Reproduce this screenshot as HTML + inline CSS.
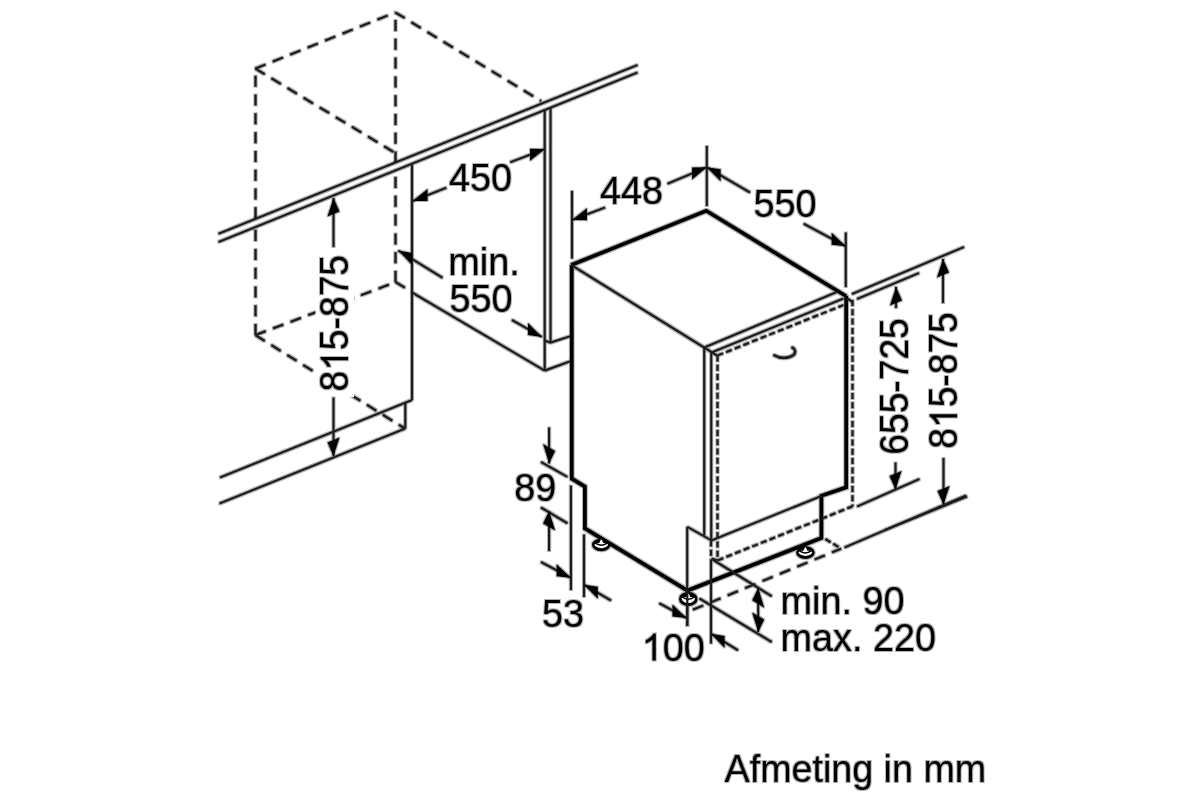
<!DOCTYPE html>
<html><head><meta charset="utf-8"><style>
html,body{margin:0;padding:0;background:#fff;width:1200px;height:800px;overflow:hidden}
svg{display:block}
text{font-family:"Liberation Sans",sans-serif;fill:#000;stroke:none}
svg{filter:grayscale(1)}
</style></head><body>
<svg width="1200" height="800" viewBox="0 0 1200 800" stroke="#1c1c1c" stroke-linecap="butt">
<defs><filter id="soft" x="0" y="0" width="1200" height="800" filterUnits="userSpaceOnUse"><feMorphology in="SourceAlpha" operator="dilate" radius="0.8" result="d"/><feComponentTransfer in="d" result="dl"><feFuncA type="linear" slope="0.3"/></feComponentTransfer><feMerge><feMergeNode in="dl"/><feMergeNode in="SourceGraphic"/></feMerge></filter></defs>
<g filter="url(#soft)">
<line x1="255.3" y1="68.6" x2="395.3" y2="12.4" stroke-width="2.35" stroke-dasharray="11 7.8" stroke-dashoffset="0"/>
<line x1="395.3" y1="12.4" x2="541" y2="101" stroke-width="2.35" stroke-dasharray="11 7.8" stroke-dashoffset="0"/>
<line x1="255.3" y1="68.6" x2="395.3" y2="153" stroke-width="2.35" stroke-dasharray="11 7.8" stroke-dashoffset="0"/>
<line x1="255.5" y1="75.75" x2="255.5" y2="219" stroke-width="2.35" stroke-dasharray="11 7.8" stroke-dashoffset="0"/>
<line x1="255.5" y1="335.1" x2="255.5" y2="227" stroke-width="2.35" stroke-dasharray="11 7.8" stroke-dashoffset="0"/>
<line x1="395.5" y1="20" x2="395.5" y2="162" stroke-width="2.35" stroke-dasharray="11 7.8" stroke-dashoffset="0"/>
<line x1="395.5" y1="282" x2="395.5" y2="170" stroke-width="2.35" stroke-dasharray="11 7.8" stroke-dashoffset="0"/>
<line x1="255.4" y1="335.1" x2="396" y2="282" stroke-width="2.35" stroke-dasharray="11 7.8" stroke-dashoffset="0"/>
<line x1="255.4" y1="335.1" x2="404" y2="428" stroke-width="2.35" stroke-dasharray="11 7.8" stroke-dashoffset="0"/>
<line x1="395.5" y1="282" x2="412" y2="292" stroke-width="2.35" stroke-dasharray="11 7.8" stroke-dashoffset="0"/>
</g><rect x="315.5" y="248" width="38.5" height="149" fill="#fff" stroke="none"/><g filter="url(#soft)">
<line x1="218.5" y1="233.75" x2="637.5" y2="65" stroke-width="2.2"/>
<line x1="218.5" y1="241.9" x2="637.5" y2="72.5" stroke-width="2.2"/>
<line x1="412" y1="163.7" x2="412" y2="400" stroke-width="2.2"/>
<line x1="220" y1="477.5" x2="412" y2="400" stroke-width="2.2"/>
<line x1="405.3" y1="402.9" x2="405.3" y2="428.4" stroke-width="2.2"/>
<line x1="219.5" y1="503.5" x2="405.3" y2="428.4" stroke-width="2.2"/>
<line x1="412.5" y1="292.8" x2="544.7" y2="370.6" stroke-width="2.2"/>
<line x1="544.7" y1="110" x2="544.7" y2="370.6" stroke-width="2.2"/>
<line x1="550.5" y1="107.7" x2="550.5" y2="342.5" stroke-width="2.2"/>
<polyline points="544.7,340.6 550.5,342.5 571,336" stroke-width="2.2" fill="none" stroke-linejoin="miter"/>
<line x1="544.7" y1="370.6" x2="571" y2="361" stroke-width="2.2"/>
<line x1="446.3" y1="187.7" x2="412.7" y2="201" stroke-width="2.2"/>
<polygon points="412.70,201.00 427.58,201.11 427.58,189.11" fill="#000" stroke="none"/>
<line x1="510.3" y1="162.3" x2="545" y2="149" stroke-width="2.2"/>
<polygon points="545.00,149.00 530.06,160.73 530.06,148.73" fill="#000" stroke="none"/>
<text transform="translate(448.9,190.8) scale(1,1.04)" x="0" y="0" font-size="37.8">450</text>
<line x1="442.5" y1="277.8" x2="398.4" y2="250.6" stroke-width="2.2"/>
<polygon points="398.40,250.60 412.02,265.00 412.02,253.00" fill="#000" stroke="none"/>
<line x1="511.9" y1="320" x2="541.9" y2="336.9" stroke-width="2.2"/>
<polygon points="541.90,336.90 527.96,335.05 527.96,323.05" fill="#000" stroke="none"/>
<text transform="translate(448.3,275) scale(1,1.04)" x="0" y="0" font-size="37.8">min.</text>
<text transform="translate(449.5,312) scale(1,1.04)" x="0" y="0" font-size="37.8">550</text>
<line x1="333.5" y1="247" x2="333.5" y2="198" stroke-width="2.2"/>
<polygon points="333.50,198.00 339.50,211.58 327.50,216.42" fill="#000" stroke="none"/>
<line x1="333.5" y1="397.5" x2="333.5" y2="456" stroke-width="2.2"/>
<polygon points="333.50,456.00 339.50,437.54 327.50,442.46" fill="#000" stroke="none"/>
<g transform="translate(348,391.5) rotate(-90) scale(1,1.07)"><text x="0.00" y="0" font-size="37.2">8</text><path transform="translate(20.69,0) scale(0.01816,-0.01816)" d="M763,0 L583,0 L583,1098 Q518,1038 412,979 Q306,920 222,890 L222,1057 Q373,1124 486,1221 Q599,1318 646,1409 L763,1409 Z" fill="#000" stroke="none"/><text x="41.38" y="0" font-size="37.2">5-875</text></g>
<line x1="572" y1="191" x2="572" y2="258.5" stroke-width="2.2"/>
<line x1="605" y1="207.5" x2="572" y2="220" stroke-width="2.2"/>
<polygon points="572.00,220.00 586.96,220.33 586.96,208.33" fill="#000" stroke="none"/>
<line x1="667.5" y1="183.75" x2="706.8" y2="167.3" stroke-width="2.2"/>
<polygon points="706.80,167.30 692.04,179.48 692.04,167.48" fill="#000" stroke="none"/>
<line x1="706.8" y1="146" x2="706.8" y2="206" stroke-width="2.2"/>
<text transform="translate(600,204) scale(1,1.04)" x="0" y="0" font-size="37.8">448</text>
<line x1="750" y1="192.5" x2="706.8" y2="167.3" stroke-width="2.2"/>
<polygon points="706.80,167.30 720.62,181.36 720.62,169.36" fill="#000" stroke="none"/>
<line x1="803.75" y1="223.75" x2="845.75" y2="246.25" stroke-width="2.2"/>
<polygon points="845.75,246.25 831.65,244.69 831.65,232.69" fill="#000" stroke="none"/>
<line x1="845.75" y1="232.5" x2="845.75" y2="287" stroke-width="2.2"/>
<text transform="translate(753.5,217) scale(1,1.04)" x="0" y="0" font-size="37.8">550</text>
<polyline points="571.25,265 706.25,210.75 846.25,296.25" stroke-width="3.8" stroke="#000" fill="none" stroke-linejoin="miter"/>
<polyline points="571.75,265 571.75,478.6 584.9,486.5 584.9,528.5 687.5,590.6 821.4,538 821.4,495.75 846.2,487.3 846.2,296" stroke-width="3.8" stroke="#000" fill="none" stroke-linejoin="miter"/>
<line x1="571.25" y1="265" x2="717" y2="355.5" stroke-width="2.2"/>
<line x1="704.25" y1="347.5" x2="704.25" y2="535.5" stroke-width="2.2"/>
<line x1="711.25" y1="352.5" x2="711.25" y2="540.4" stroke-width="2.2"/>
<line x1="704.25" y1="347.5" x2="838" y2="291.5" stroke-width="2.2"/>
<line x1="711.5" y1="352.5" x2="843.5" y2="298.5" stroke-width="2.2"/>
<line x1="717.5" y1="355.5" x2="843.5" y2="305" stroke-width="2.35" stroke-dasharray="6 3.3" stroke-dashoffset="0"/>
<line x1="717.5" y1="355.5" x2="717.5" y2="560.3" stroke-width="2.35" stroke-dasharray="6 3.3" stroke-dashoffset="0"/>
<line x1="852.5" y1="300" x2="852.5" y2="506.4" stroke-width="2.35" stroke-dasharray="6 3.3" stroke-dashoffset="0"/>
<line x1="846.5" y1="298" x2="852.5" y2="302" stroke-width="2.2"/>
<line x1="711.4" y1="540.4" x2="821.4" y2="496" stroke-width="2.2"/>
<line x1="687.4" y1="526.9" x2="711.4" y2="540.4" stroke-width="2.2"/>
<line x1="687.2" y1="526.9" x2="687.2" y2="626" stroke-width="2.2"/>
<line x1="711" y1="540.4" x2="711" y2="559.5" stroke-width="2.35" stroke-dasharray="6 3.3" stroke-dashoffset="0"/>
<line x1="711" y1="559.5" x2="711" y2="643.5" stroke-width="2.2"/>
<line x1="711.5" y1="558.5" x2="717.75" y2="560.3" stroke-width="2.2"/>
<line x1="717.75" y1="560.3" x2="852.4" y2="506.4" stroke-width="2.35" stroke-dasharray="6 3.3" stroke-dashoffset="0"/>
<path d="M774.5,355.3 C780,358.6 789,358.8 793.5,355 C796,352.5 795.5,349.5 792.5,347.7" fill="none" stroke-width="2.7" stroke-linecap="round"/>
<ellipse cx="601.3" cy="544.9" rx="9.3" ry="6.3" fill="#000" stroke="none"/>
<ellipse cx="601.3" cy="544.5" rx="6.6" ry="3.7" fill="#fff" stroke="none"/>
<path d="M594.9,542.9 Q601.3,547.5 607.7,542.9" fill="none" stroke="#000" stroke-width="1.5"/>
<polygon points="592.3,543.1 592.3,543.1 592.4,543.1 592.5,543.1 592.7,543.0 593.0,542.6 593.3,542.2 593.6,541.8 594.0,541.4 594.5,541.0 594.9,540.7 595.5,540.3 596.0,540.0 596.6,539.8 597.2,539.6 597.9,539.4 598.5,539.2 599.2,539.1 599.9,539.0 600.6,538.9 601.3,538.9 602.0,538.9 602.7,539.0 603.4,539.1 604.1,539.2 604.7,539.4 605.4,539.6 606.0,539.8 606.6,540.0 607.1,540.3 607.7,540.7 608.1,541.0 608.6,541.4 609.0,541.8 609.3,542.2 609.6,542.6 609.9,543.0 610.1,543.1 610.2,543.1 610.3,543.1 610.3,543.1" fill="#000" stroke="none"/>
<path d="M598.9,544.0 L600.7,539.7 L601.9,539.7 L603.7,544.0Z" fill="#fff" stroke="none"/>
<ellipse cx="688.3" cy="599.0" rx="9.3" ry="6.9" fill="#000" stroke="none"/>
<ellipse cx="688.3" cy="598.6" rx="6.6" ry="4.3" fill="#fff" stroke="none"/>
<path d="M681.9,597.0 Q688.3,601.6 694.7,597.0" fill="none" stroke="#000" stroke-width="1.5"/>
<polygon points="679.3,597.2 679.3,597.2 679.4,597.2 679.5,597.2 679.7,597.0 680.0,596.5 680.3,596.0 680.6,595.6 681.0,595.1 681.5,594.7 681.9,594.3 682.5,594.0 683.0,593.7 683.6,593.4 684.2,593.1 684.9,592.9 685.5,592.7 686.2,592.6 686.9,592.5 687.6,592.4 688.3,592.4 689.0,592.4 689.7,592.5 690.4,592.6 691.1,592.7 691.7,592.9 692.4,593.1 693.0,593.4 693.6,593.7 694.1,594.0 694.7,594.3 695.1,594.7 695.6,595.1 696.0,595.6 696.3,596.0 696.6,596.5 696.9,597.0 697.1,597.2 697.2,597.2 697.3,597.2 697.3,597.2" fill="#000" stroke="none"/>
<path d="M685.9,598.1 L687.7,593.8 L688.9,593.8 L690.7,598.1Z" fill="#fff" stroke="none"/>
<ellipse cx="805.4" cy="552.6" rx="9.3" ry="6.3" fill="#000" stroke="none"/>
<ellipse cx="805.4" cy="552.2" rx="6.6" ry="3.7" fill="#fff" stroke="none"/>
<path d="M799.0,550.6 Q805.4,555.2 811.8,550.6" fill="none" stroke="#000" stroke-width="1.5"/>
<polygon points="796.4,550.8 796.4,550.8 796.5,550.8 796.6,550.8 796.8,550.7 797.1,550.3 797.4,549.9 797.7,549.5 798.1,549.1 798.6,548.7 799.0,548.4 799.6,548.0 800.1,547.7 800.7,547.5 801.3,547.3 802.0,547.1 802.6,546.9 803.3,546.8 804.0,546.7 804.7,546.6 805.4,546.6 806.1,546.6 806.8,546.7 807.5,546.8 808.2,546.9 808.8,547.1 809.5,547.3 810.1,547.5 810.7,547.7 811.2,548.0 811.8,548.4 812.2,548.7 812.7,549.1 813.1,549.5 813.4,549.9 813.7,550.3 814.0,550.7 814.2,550.8 814.3,550.8 814.4,550.8 814.4,550.8" fill="#000" stroke="none"/>
<path d="M803.0,551.7 L804.8,547.4 L806.0,547.4 L807.8,551.7Z" fill="#fff" stroke="none"/>
<line x1="687.3" y1="590" x2="687.3" y2="626" stroke-width="2.2"/>
<line x1="541" y1="462" x2="567.4" y2="476.9" stroke-width="2.2"/>
<line x1="541" y1="507.5" x2="567.4" y2="523.25" stroke-width="2.2"/>
<line x1="549.1" y1="427.5" x2="549.1" y2="463.5" stroke-width="2.2"/>
<polygon points="549.10,463.50 555.10,450.98 543.10,444.02" fill="#000" stroke="none"/>
<line x1="549.1" y1="551" x2="549.1" y2="511" stroke-width="2.2"/>
<polygon points="549.10,511.00 555.10,530.48 543.10,523.52" fill="#000" stroke="none"/>
<text transform="translate(514.2,501.2) scale(1,1.04)" x="0" y="0" font-size="37.8">89</text>
<line x1="570.9" y1="485.6" x2="570.9" y2="590" stroke-width="2.2"/>
<line x1="584" y1="534.6" x2="584" y2="597" stroke-width="2.2"/>
<line x1="541" y1="562" x2="570.75" y2="577.75" stroke-width="2.2"/>
<polygon points="570.75,577.75 556.61,576.26 556.61,564.26" fill="#000" stroke="none"/>
<line x1="611" y1="600.5" x2="584" y2="584.75" stroke-width="2.2"/>
<polygon points="584.00,584.75 597.82,598.81 597.82,586.81" fill="#000" stroke="none"/>
<text transform="translate(542.1,627) scale(1,1.04)" x="0" y="0" font-size="37.8">53</text>
<line x1="659.3" y1="603.3" x2="686.5" y2="618" stroke-width="2.2"/>
<polygon points="686.50,618.00 672.42,616.39 672.42,604.39" fill="#000" stroke="none"/>
<line x1="738" y1="650.2" x2="711" y2="633.7" stroke-width="2.2"/>
<polygon points="711.00,633.70 724.65,648.04 724.65,636.04" fill="#000" stroke="none"/>
<g transform="translate(641.7,660.5) scale(1,1.04)"><path transform="translate(0.00,0) scale(0.01846,-0.01846)" d="M763,0 L583,0 L583,1098 Q518,1038 412,979 Q306,920 222,890 L222,1057 Q373,1124 486,1221 Q599,1318 646,1409 L763,1409 Z" fill="#000" stroke="none"/><text x="21.02" y="0" font-size="37.8">00</text></g>
<line x1="712.5" y1="559.5" x2="771.7" y2="596.2" stroke-width="2.2"/>
<line x1="699.5" y1="598.5" x2="771.7" y2="642" stroke-width="2.2"/>
<line x1="693" y1="609.7" x2="841.1" y2="548.6" stroke-width="2.35" stroke-dasharray="11 7.8" stroke-dashoffset="0"/>
<line x1="825.4" y1="539" x2="841.1" y2="548.6" stroke-width="2.35" stroke-dasharray="6 3.3" stroke-dashoffset="0"/>
<line x1="844.5" y1="547.5" x2="966" y2="495.5" stroke-width="2.2"/>
<line x1="758.2" y1="610" x2="758.2" y2="588" stroke-width="2.2"/>
<polygon points="758.20,588.00 764.20,607.72 752.20,600.28" fill="#000" stroke="none"/>
<line x1="758.2" y1="610" x2="758.2" y2="632" stroke-width="2.2"/>
<polygon points="758.20,632.00 764.20,619.60 752.20,612.40" fill="#000" stroke="none"/>
<text transform="translate(780.6,614) scale(1,1.04)" x="0" y="0" font-size="37.8">min. 90</text>
<text transform="translate(780.6,651.3) scale(1,1.04)" x="0" y="0" font-size="37.8">max. 220</text>
<line x1="852" y1="294" x2="964" y2="247" stroke-width="2.2"/>
<line x1="857" y1="299" x2="919" y2="273" stroke-width="2.2"/>
<line x1="857.1" y1="506.4" x2="919.5" y2="479" stroke-width="2.2"/>
<line x1="885" y1="530" x2="967" y2="496.5" stroke-width="2.2"/>
<line x1="896" y1="308" x2="896" y2="287" stroke-width="2.2"/>
<polygon points="896.00,287.00 902.00,300.48 890.00,305.52" fill="#000" stroke="none"/>
<line x1="895.5" y1="462.5" x2="895.5" y2="489.5" stroke-width="2.2"/>
<polygon points="895.50,489.50 901.50,470.92 889.50,476.08" fill="#000" stroke="none"/>
<text transform="translate(908,454.7) rotate(-90) scale(1,1.07)" x="0" y="0" font-size="37.2">655-725</text>
<line x1="943" y1="303" x2="943" y2="259" stroke-width="2.2"/>
<polygon points="943.00,259.00 949.00,272.48 937.00,277.52" fill="#000" stroke="none"/>
<line x1="943.5" y1="458" x2="943.5" y2="504.5" stroke-width="2.2"/>
<polygon points="943.50,504.50 949.50,485.94 937.50,491.06" fill="#000" stroke="none"/>
<g transform="translate(957,448.7) rotate(-90) scale(1,1.07)"><text x="0.00" y="0" font-size="37.2">8</text><path transform="translate(20.69,0) scale(0.01816,-0.01816)" d="M763,0 L583,0 L583,1098 Q518,1038 412,979 Q306,920 222,890 L222,1057 Q373,1124 486,1221 Q599,1318 646,1409 L763,1409 Z" fill="#000" stroke="none"/><text x="41.38" y="0" font-size="37.2">5-875</text></g>
<text transform="translate(724.6,782.5) scale(1,1.04)" x="0" y="0" font-size="37.65">Afmeting in mm</text>
</g>
</svg></body></html>
